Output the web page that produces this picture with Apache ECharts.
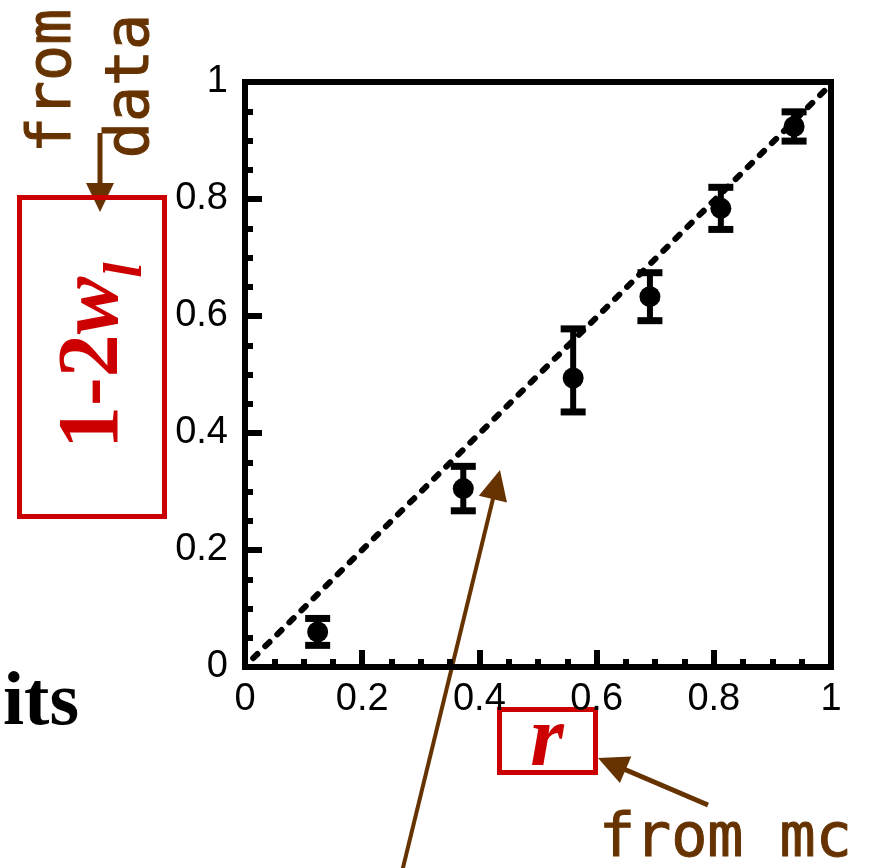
<!DOCTYPE html>
<html>
<head>
<meta charset="utf-8">
<script src="https://cdn.jsdelivr.net/npm/echarts@6/dist/echarts.min.js"></script>
<style>
html,body{margin:0;padding:0;background:#fff;}
#chart{width:873px;height:868px;}
</style>
</head>
<body>
<div id="chart"></div>
<script>
// ---- data ----
const rValues = [0.124, 0.3725, 0.560, 0.691, 0.812, 0.937];
const wValues = [0.060, 0.305, 0.494, 0.633, 0.784, 0.924];
const errUp   = [0.023, 0.038, 0.084, 0.041, 0.036, 0.025];
const errDown = [0.023, 0.038, 0.058, 0.041, 0.036, 0.025];
const diagX = [0.014, 0.992];
const diagY = [0.015, 0.988];
const tickLabels = ['0', '0.2', '0.4', '0.6', '0.8', '1'];

const BROWN = '#663300';
const RED = '#cc0000';

const chart = echarts.init(document.getElementById('chart'), null, {renderer: 'canvas'});

function arrow(x1, y1, x2, y2, headLen, headHalf, lw) {
  const dx = x2 - x1, dy = y2 - y1;
  const L = Math.sqrt(dx * dx + dy * dy);
  const ux = dx / L, uy = dy / L;
  const bx = x2 - ux * headLen, by = y2 - uy * headLen;
  const px = -uy, py = ux;
  return [
    {type: 'line', shape: {x1: x1, y1: y1, x2: bx + ux * 2, y2: by + uy * 2},
     style: {stroke: BROWN, lineWidth: lw}, silent: true},
    {type: 'polygon', shape: {points: [[x2, y2], [bx + px * headHalf, by + py * headHalf], [bx - px * headHalf, by - py * headHalf]]},
     style: {fill: BROWN}, silent: true}
  ];
}

const axisLabelStyle = {fontSize: 38, color: '#000', fontFamily: 'Liberation Sans, Arial, sans-serif'};

const option = {
  animation: false,
  backgroundColor: '#fff',
  grid: {left: 245, top: 82, width: 586, height: 585, show: true, borderColor: '#000', borderWidth: 6, containLabel: false, outerBoundsMode: 'none'},
  xAxis: {
    type: 'value', min: 0, max: 1, interval: 0.2,
    axisLine: {show: true, lineStyle: {color: '#000', width: 6}},
    axisTick: {show: true, inside: true, length: 17, lineStyle: {color: '#000', width: 6}},
    minorTick: {show: true, splitNumber: 4, length: 8, lineStyle: {color: '#000', width: 6}},
    splitLine: {show: false},
    minorSplitLine: {show: false},
    axisLabel: Object.assign({margin: 14, formatter: function (v) { return tickLabels[Math.round(v * 5)]; }}, axisLabelStyle)
  },
  yAxis: {
    type: 'value', min: 0, max: 1, interval: 0.2,
    axisLine: {show: true, lineStyle: {color: '#000', width: 6}},
    axisTick: {show: true, inside: true, length: 17, lineStyle: {color: '#000', width: 6}},
    minorTick: {show: true, splitNumber: 4, length: 8, lineStyle: {color: '#000', width: 6}},
    splitLine: {show: false},
    minorSplitLine: {show: false},
    axisLabel: Object.assign({margin: 17, formatter: function (v) { return tickLabels[Math.round(v * 5)]; }}, axisLabelStyle)
  },
  series: [
    {
      type: 'line',
      data: diagX.map((x, i) => [x, diagY[i]]),
      symbol: 'none',
      clip: false,
      lineStyle: {color: '#000', width: 6, type: [6, 11], cap: 'round'},
      z: 2
    },
    {
      type: 'custom',
      data: rValues.map((r, i) => [r, wValues[i], errUp[i], errDown[i]]),
      clip: false,
      renderItem: function (params, api) {
        const x = api.value(0), y = api.value(1);
        const top = api.coord([x, y + api.value(2)]);
        const bot = api.coord([x, y - api.value(3)]);
        const hw = 12.5;
        const st = {stroke: '#000', lineWidth: 6};
        const cap = {stroke: '#000', lineWidth: 7};
        return {
          type: 'group',
          children: [
            {type: 'line', shape: {x1: top[0], y1: top[1], x2: bot[0], y2: bot[1]}, style: st},
            {type: 'line', shape: {x1: top[0] - hw, y1: top[1], x2: top[0] + hw, y2: top[1]}, style: cap},
            {type: 'line', shape: {x1: bot[0] - hw, y1: bot[1], x2: bot[0] + hw, y2: bot[1]}, style: cap}
          ]
        };
      },
      z: 3
    },
    {
      type: 'scatter',
      data: rValues.map((r, i) => [r, wValues[i]]),
      symbol: 'circle',
      symbolSize: 21,
      itemStyle: {color: '#000', opacity: 1},
      z: 4
    }
  ],
  graphic: [
    // "from data" rotated
    {type: 'text', x: 54, y: 81, rotation: Math.PI / 2, silent: true,
     style: {text: 'from', fontSize: 60, fontFamily: 'DejaVu Sans Mono, monospace', fill: BROWN, align: 'center', verticalAlign: 'middle', stroke: BROWN, lineWidth: 1}},
    {type: 'text', x: 132, y: 86, rotation: Math.PI / 2, silent: true,
     style: {text: 'data', fontSize: 60, fontFamily: 'DejaVu Sans Mono, monospace', fill: BROWN, align: 'center', verticalAlign: 'middle', stroke: BROWN, lineWidth: 1}},
    ...arrow(100, 133, 100, 212, 29, 14, 5),
    // y label box
    {type: 'rect', shape: {x: 19.5, y: 197.5, width: 145, height: 319}, style: {fill: 'none', stroke: RED, lineWidth: 5}, silent: true},
    {type: 'text', x: 95, y: 363, rotation: Math.PI / 2, silent: true,
     style: {
       text: '{a|1-2}{b|w}',
       align: 'center', verticalAlign: 'middle',
       rich: {
         a: {fontSize: 86, fontWeight: 'bold', fontFamily: 'Liberation Serif, Times New Roman, serif', fill: RED},
         b: {fontSize: 86, fontWeight: 'bold', fontStyle: 'italic', fontFamily: 'Liberation Serif, Times New Roman, serif', fill: RED}
       }
     }},
    {type: 'text', x: 127, y: 270, rotation: Math.PI / 2, silent: true,
     style: {text: 'l', fontSize: 55, fontWeight: 'bold', fontStyle: 'italic', fontFamily: 'Liberation Serif, Times New Roman, serif', fill: RED, align: 'center', verticalAlign: 'middle'}},
    // x label box
    {type: 'rect', shape: {x: 499.5, y: 709.5, width: 96, height: 63}, style: {fill: 'none', stroke: RED, lineWidth: 5}, silent: true},
    {type: 'text', x: 547, y: 743, silent: true,
     style: {text: 'r', fontSize: 86, fontWeight: 'bold', fontStyle: 'italic', fontFamily: 'Liberation Serif, Times New Roman, serif', fill: RED, align: 'center', verticalAlign: 'middle'}},
    // from mc
    {type: 'text', x: 599, y: 840, silent: true,
     style: {text: 'from mc', fontSize: 60, fontFamily: 'DejaVu Sans Mono, monospace', fill: BROWN, align: 'left', verticalAlign: 'middle', stroke: BROWN, lineWidth: 1}},
    ...arrow(708, 805, 598, 758, 30, 14.5, 5),
    // long arrow
    ...arrow(400, 880, 500, 470, 30, 14.5, 4),
    // partial word
    {type: 'text', x: 79, y: 704, silent: true,
     style: {text: 'its', fontSize: 76, fontWeight: 'bold', fontFamily: 'Liberation Serif, Times New Roman, serif', fill: '#000', align: 'right', verticalAlign: 'middle'}}
  ]
};

chart.setOption(option);
</script>
</body>
</html>
